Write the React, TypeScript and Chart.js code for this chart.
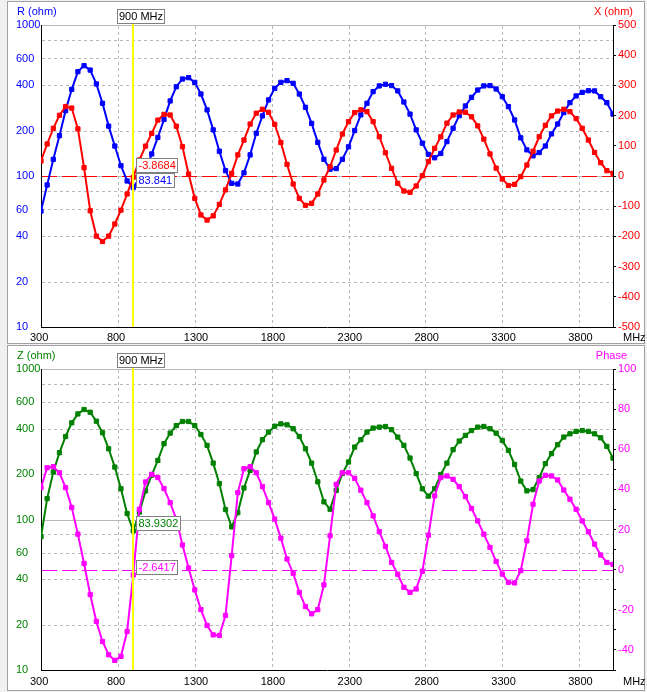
import React, { useEffect, useRef } from "react";
import { Chart, registerables } from "chart.js";
Chart.register(...registerables);

const FONT = '"Liberation Sans", Arial, sans-serif';

// ---------------- data ----------------
const freqMHz = [
  300, 340, 380, 420, 460, 500, 540, 580, 620, 660, 700, 740, 780, 820, 860, 900, 940, 980, 1020, 1060,
  1100, 1140, 1180, 1220, 1260, 1300, 1340, 1380, 1420, 1460, 1500, 1540, 1580, 1620, 1660, 1700, 1740, 1780, 1820, 1860,
  1900, 1940, 1980, 2020, 2060, 2100, 2140, 2180, 2220, 2260, 2300, 2340, 2380, 2420, 2460, 2500, 2540, 2580, 2620, 2660,
  2700, 2740, 2780, 2820, 2860, 2900, 2940, 2980, 3020, 3060, 3100, 3140, 3180, 3220, 3260, 3300, 3340, 3380, 3420, 3460,
  3500, 3540, 3580, 3620, 3660, 3700, 3740, 3780, 3820, 3860, 3900, 3940, 3980, 4020,
];

const rOhm = [
  58.6, 87.2, 128.9, 185, 271, 375, 491, 538, 503, 407, 303, 214, 158, 117, 92.7, 83.841, 97, 108, 140, 180,
  237, 314, 390, 439, 448, 417, 349, 274, 202, 146, 108.5, 89.4, 88.5, 105, 138, 192, 250, 319, 381, 417,
  428, 411, 349, 285, 223, 167, 129, 111, 112, 129, 156, 200, 254, 303, 362, 395, 405, 397, 366, 309,
  257, 202, 165, 139, 132, 141, 169, 207, 251, 291, 332, 371, 395, 397, 377, 335, 288, 235, 179, 149,
  136, 143, 158, 190, 221, 263, 306, 339, 358, 367, 366, 335, 306, 257,
];

const xOhm = [
  49.7, 106, 158, 201, 230, 225, 156, 27.6, -115, -199, -217, -199, -159, -113, -59.6, -3.8684, 53, 99, 141, 185,
  204, 202, 165, 97, 6.6, -74, -129, -146, -132, -94, -46, 8.8, 70, 119, 172, 208, 221, 211, 171, 111,
  38.6, -26.5, -74, -97, -90.5, -59.6, -13.2, 30.9, 86, 139, 180, 210, 219, 213, 180, 130, 77, 25.4, -24.3, -49.7,
  -54, -33, 1.1, 47.5, 91.6, 130, 175, 202, 212, 211, 196, 166, 122, 73, 26, -10, -31.5, -27.6, -2.2, 36.4,
  82, 130, 168, 199, 215, 221, 213, 190, 158, 119, 78, 44, 17.7, 8.8,
];

const zOhm = [
  76.8, 137.7, 207, 278, 356, 439, 503, 538, 516, 450, 377, 295, 223, 160, 109.6, 83.9302, 112, 155, 197, 247,
  319, 375, 421, 448, 448, 421, 367, 311, 237, 173, 116.5, 89.4, 111, 162, 212, 281, 339, 381, 417, 432,
  426, 401, 356, 295, 237, 178, 131, 117, 156, 202, 241, 303, 339, 381, 405, 411, 415, 395, 353, 311,
  256, 202, 160, 143, 160, 199, 237, 291, 332, 362, 390, 411, 415, 401, 375, 335, 288, 232, 180, 155,
  158, 190, 235, 274, 314, 353, 371, 385, 390, 385, 371, 349, 306, 256,
];

const phaseDeg = [
  40.9, 50.8, 51.3, 48.3, 40.9, 31.0, 17.7, 3.1, -12.4, -25.8, -35.8, -42.4, -45.2, -43.2, -30.8, -2.6417, 30.1, 43.7, 47.5, 45.9,
  40.4, 33.4, 25.2, 12.3, 0.8, -10.1, -19.9, -27.8, -32.5, -32.8, -22.8, 7.0, 38.4, 50.3, 51.3, 48.3, 41.4, 33.4, 25.2, 15.7,
  5.3, -1.8, -11.3, -18.4, -22.0, -19.9, -7.6, 16.9, 42.5, 48.3, 48.3, 45.5, 39.6, 33.4, 26.8, 19.0, 11.6, 3.6, -2.3, -8.8,
  -11.3, -9.6, -0.8, 17.2, 36.8, 45.9, 46.7, 45.0, 41.4, 36.4, 30.5, 24.3, 17.7, 11.1, 4.1, -2.2, -6.3, -6.6, -0.5, 14.4,
  32.6, 44.2, 47.0, 46.7, 44.7, 39.7, 35.1, 30.1, 24.3, 18.9, 12.7, 7.3, 3.6, 2.6,
];

const xTicks = [300, 800, 1300, 1800, 2300, 2800, 3300, 3800];
const logTickLabels = [10, 20, 40, 60, 100, 200, 400, 600, 1000];
const logDashedGrid = [20, 40, 60, 80, 200, 400, 600, 800];
const logSolidGrid = [100, 1000];
const reactanceTicks = [-500, -400, -300, -200, -100, 0, 100, 200, 300, 400, 500];
const phaseTicks = [-50, -40, -30, -20, -10, 0, 10, 20, 30, 40, 50, 60, 70, 80, 90, 100];
const phaseLabelled = [-40, -20, 0, 20, 40, 60, 80, 100];
const markerFreq = 900;

// ---------------- helpers ----------------
type PanelCfg = {
  leftData: number[];
  rightData: number[];
  leftColor: string;
  rightColor: string;
  leftTitle: string;
  rightTitle: string;
  rightTitleRight: number;
  rightMin: number;
  rightMax: number;
  rightTicks: number[];
  rightLabel: (v: number) => string;
  refValue: number;
  xAxisHeight: number;
  tickPad: number;
  frame: { x: number; y: number; w: number; h: number };
};

function hline(ctx: CanvasRenderingContext2D, x1: number, x2: number, y: number) {
  ctx.beginPath();
  ctx.moveTo(x1, y);
  ctx.lineTo(x2, y);
  ctx.stroke();
}
function vline(ctx: CanvasRenderingContext2D, x: number, y1: number, y2: number) {
  ctx.beginPath();
  ctx.moveTo(x, y1);
  ctx.lineTo(x, y2);
  ctx.stroke();
}

function drawBox(ctx: CanvasRenderingContext2D, left: number, bottom: number, text: string, color: string) {
  ctx.font = `11px ${FONT}`;
  const w = Math.round(ctx.measureText(text).width) + 4;
  const h = 14;
  const top = bottom - h;
  ctx.fillStyle = "#ffffff";
  ctx.fillRect(left, top, w, h);
  ctx.strokeStyle = "#808080";
  ctx.lineWidth = 1;
  ctx.setLineDash([]);
  ctx.strokeRect(left + 0.5, top + 0.5, w, h);
  ctx.fillStyle = color;
  ctx.textAlign = "left";
  ctx.textBaseline = "middle";
  ctx.fillText(text, left + 2.5, top + h / 2 + 1);
  return top;
}

function panelPlugin(cfg: PanelCfg) {
  return {
    id: "panelDecor",
    beforeDraw(chart: any) {
      const { ctx, width, height } = chart;
      const f = cfg.frame;
      ctx.save();
      ctx.fillStyle = "#f0f0f0";
      ctx.fillRect(0, 0, width, height);
      ctx.fillStyle = "#ffffff";
      ctx.fillRect(f.x, f.y, f.w, f.h);
      ctx.strokeStyle = "#a0a0a0";
      ctx.lineWidth = 1;
      ctx.strokeRect(f.x + 0.5, f.y + 0.5, f.w - 1, f.h - 1);
      ctx.restore();
    },
    beforeDatasetsDraw(chart: any) {
      const { ctx, chartArea: a, scales } = chart;
      const sx = scales.x;
      const yl = scales.yL;
      const yr = scales.yR;
      ctx.save();
      ctx.lineWidth = 1;
      ctx.strokeStyle = "#b8b8b8";
      ctx.setLineDash([3, 3]);
      for (const v of xTicks.slice(1)) {
        const px = Math.round(sx.getPixelForValue(v)) + 0.5;
        vline(ctx, px, a.top + 1, a.bottom);
      }
      for (const v of logDashedGrid) {
        const py = Math.round(yl.getPixelForValue(v)) + 0.5;
        hline(ctx, a.left + 1, a.right, py);
      }
      ctx.setLineDash([]);
      ctx.strokeStyle = "#b8b8b8";
      for (const v of logSolidGrid) {
        const py = Math.round(yl.getPixelForValue(v)) + 0.5;
        hline(ctx, a.left + 1, a.right, py);
      }
      ctx.strokeStyle = cfg.rightColor;
      ctx.setLineDash([15, 5]);
      const ry = Math.round(yr.getPixelForValue(cfg.refValue)) + 0.5;
      hline(ctx, a.left + 1, a.right, ry);
      ctx.restore();
    },
    afterDatasetsDraw(chart: any) {
      const { ctx, chartArea: a, scales } = chart;
      const sx = scales.x;
      const yl = scales.yL;
      const yr = scales.yR;
      const idx = freqMHz.indexOf(markerFreq);
      ctx.save();
      // marker line
      const lx = Math.round(sx.getPixelForValue(markerFreq));
      ctx.fillStyle = "#ffff00";
      ctx.fillRect(lx - 1, a.top - 2, 2, a.bottom - a.top + 2);
      // frequency box
      ctx.font = `11px ${FONT}`;
      const ftxt = `${markerFreq} MHz`;
      const fw = Math.round(ctx.measureText(ftxt).width) + 3;
      const fl = lx - 16;
      const ft = a.top - 16;
      ctx.fillStyle = "#ffffff";
      ctx.fillRect(fl, ft, fw, 14);
      ctx.strokeStyle = "#808080";
      ctx.lineWidth = 1;
      ctx.strokeRect(fl + 0.5, ft + 0.5, fw, 14);
      ctx.fillStyle = "#000000";
      ctx.textAlign = "left";
      ctx.textBaseline = "middle";
      ctx.fillText(ftxt, fl + 2, ft + 8);
      // value boxes
      const lv = cfg.leftData[idx];
      const rv = cfg.rightData[idx];
      const lBottom = Math.round(yl.getPixelForValue(lv)) - 1;
      const lTop = drawBox(ctx, lx + 3, lBottom, String(lv), cfg.leftColor);
      let rBottom = Math.round(yr.getPixelForValue(rv)) - 1;
      if (rBottom > lTop - 1 && rBottom - 14 < lBottom) rBottom = lTop - 1;
      drawBox(ctx, lx + 3, rBottom, String(rv), cfg.rightColor);
      // titles
      ctx.font = `11px ${FONT}`;
      ctx.textBaseline = "middle";
      ctx.textAlign = "left";
      ctx.fillStyle = cfg.leftColor;
      ctx.fillText(cfg.leftTitle, 17, 12);
      ctx.textAlign = "right";
      ctx.fillStyle = cfg.rightColor;
      ctx.fillText(cfg.rightTitle, cfg.rightTitleRight, 12);
      ctx.textAlign = "left";
      ctx.fillStyle = "#000000";
      ctx.fillText("MHz", 623, a.bottom + cfg.tickPad + 6.6);
      ctx.restore();
    },
  };
}

function makeChart(canvas: HTMLCanvasElement, cfg: PanelCfg) {
  const pts = (arr: number[]) => freqMHz.map((f, i) => ({ x: f, y: arr[i] }));
  const font = { family: FONT, size: 11 };
  const series = (arr: number[], axis: string, color: string) => ({
    data: pts(arr),
    yAxisID: axis,
    borderColor: color,
    backgroundColor: color,
    borderWidth: 2,
    pointStyle: "rect",
    pointRadius: 3,
    pointBorderWidth: 1,
    pointHoverRadius: 3,
    tension: 0,
    fill: false,
  });
  return new Chart(canvas, {
    type: "line",
    data: {
      datasets: [series(cfg.rightData, "yR", cfg.rightColor), series(cfg.leftData, "yL", cfg.leftColor)],
    },
    options: {
      responsive: false,
      animation: false,
      devicePixelRatio: 1,
      events: [],
      layout: { padding: { left: 16, top: 25, right: 0, bottom: 0 } },
      plugins: { legend: { display: false }, tooltip: { enabled: false }, title: { display: false } },
      scales: {
        x: {
          type: "linear",
          position: "bottom",
          min: 300,
          max: 4020,
          afterBuildTicks: (s: any) => {
            s.ticks = xTicks.map((v) => ({ value: v }));
          },
          afterFit: (s: any) => {
            s.height = cfg.xAxisHeight;
          },
          grid: { display: false, drawTicks: false },
          border: { display: true, color: "#000000", width: 1 },
          ticks: {
            color: "#000000",
            font,
            padding: cfg.tickPad,
            align: "start",
            labelOffset: -11,
            maxRotation: 0,
            minRotation: 0,
            autoSkip: false,
            callback: (v: any) => String(v),
          },
        },
        yL: {
          type: "logarithmic",
          position: "left",
          min: 10,
          max: 1000,
          afterBuildTicks: (s: any) => {
            s.ticks = logTickLabels.map((v) => ({ value: v }));
          },
          afterFit: (s: any) => {
            s.width = 25;
          },
          grid: { display: false, drawTicks: false },
          border: { display: true, color: "#000000", width: 1 },
          ticks: {
            color: cfg.leftColor,
            font,
            padding: 0,
            crossAlign: "far",
            autoSkip: false,
            callback: (v: any) => String(v),
          },
        },
        yR: {
          type: "linear",
          position: "right",
          min: cfg.rightMin,
          max: cfg.rightMax,
          afterBuildTicks: (s: any) => {
            s.ticks = cfg.rightTicks.map((v) => ({ value: v }));
          },
          afterFit: (s: any) => {
            s.width = 34;
          },
          grid: {
            display: true,
            drawOnChartArea: false,
            drawTicks: true,
            tickLength: 3,
            tickColor: "#000000",
            color: "#000000",
          },
          border: { display: true, color: "#000000", width: 1 },
          ticks: {
            color: cfg.rightColor,
            font,
            padding: 2,
            autoSkip: false,
            callback: (v: any) => cfg.rightLabel(Number(v)),
          },
        },
      },
    } as any,
    plugins: [panelPlugin(cfg) as any],
  });
}

const topCfg: PanelCfg = {
  leftData: rOhm,
  rightData: xOhm,
  leftColor: "#0000ff",
  rightColor: "#ff0000",
  leftTitle: "R (ohm)",
  rightTitle: "X (ohm)",
  rightTitleRight: 633,
  rightMin: -500,
  rightMax: 500,
  rightTicks: reactanceTicks,
  rightLabel: (v) => String(v),
  refValue: 0,
  xAxisHeight: 17,
  tickPad: 4,
  frame: { x: 7, y: 1, w: 638, h: 343 },
};

const bottomCfg: PanelCfg = {
  leftData: zOhm,
  rightData: phaseDeg,
  leftColor: "#008000",
  rightColor: "#ff00ff",
  leftTitle: "Z (ohm)",
  rightTitle: "Phase",
  rightTitleRight: 627,
  rightMin: -50,
  rightMax: 100,
  rightTicks: phaseTicks,
  rightLabel: (v) => (phaseLabelled.includes(v) ? String(v) : ""),
  refValue: 0,
  xAxisHeight: 22,
  tickPad: 5,
  frame: { x: 7, y: 1, w: 638, h: 346 },
};

export default function App() {
  const topRef = useRef<HTMLCanvasElement>(null);
  const botRef = useRef<HTMLCanvasElement>(null);
  useEffect(() => {
    const c1 = makeChart(topRef.current!, topCfg);
    const c2 = makeChart(botRef.current!, bottomCfg);
    return () => {
      c1.destroy();
      c2.destroy();
    };
  }, []);
  return (
    <div
      style={{
        position: "absolute",
        left: 0,
        top: 0,
        width: 647,
        height: 692,
        background: "#f0f0f0",
        overflow: "hidden",
      }}
    >
      <canvas
        ref={topRef}
        width={647}
        height={344}
        style={{ position: "absolute", left: 0, top: 0, width: 647, height: 344 }}
      />
      <canvas
        ref={botRef}
        width={647}
        height={348}
        style={{ position: "absolute", left: 0, top: 344, width: 647, height: 348 }}
      />
    </div>
  );
}
